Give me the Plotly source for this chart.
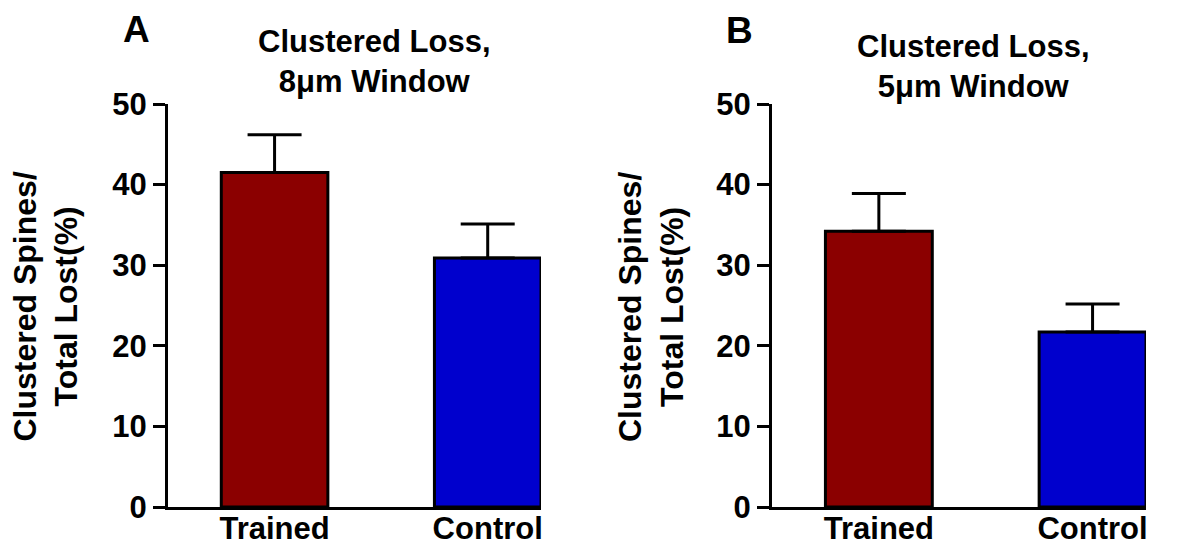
import plotly.graph_objects as go

# ---- data ----
categories = ["Trained", "Control"]
a_means = [41.5, 30.9]
a_sem = [4.7, 4.2]
b_means = [34.2, 21.7]
b_sem = [4.7, 3.5]
bar_colors = ["#8B0000", "#0000CD"]
y_ticks = [0, 10, 20, 30, 40, 50]
panel_titles = ["Clustered Loss,<br>8\u03bcm Window", "Clustered Loss,<br>5\u03bcm Window"]
panel_letters = ["A", "B"]
y_title = "Clustered Spines/<br>Total Lost(%)"

W, H = 1193, 549
FONT = "Liberation Sans, Arial, sans-serif"

def px_x(p):
    return p / W

def px_y(p):
    return 1 - p / H

fig = go.Figure()

for i, (means, sem) in enumerate([(a_means, a_sem), (b_means, b_sem)]):
    suffix = "" if i == 0 else "2"
    fig.add_trace(go.Bar(
        x=categories, y=means,
        width=0.5,
        marker=dict(color=bar_colors, line=dict(color="black", width=3)),
        error_y=dict(type="data", symmetric=False, array=sem, arrayminus=[0] * len(sem),
                     color="black", thickness=3, width=27),
        xaxis="x" + suffix, yaxis="y" + suffix,
        showlegend=False,
    ))

x_domains = [[px_x(168), px_x(541)], [px_x(772), px_x(1146)]]
y_domain = [px_y(507), px_y(104)]

common_x = dict(range=[-0.5, 1.25], showline=True, linecolor="black", linewidth=3,
                ticks="", showgrid=False, zeroline=False, automargin=False,
                ticklabelstandoff=-8,
                tickfont=dict(family=FONT, size=31, color="black", weight="bold"))
common_y = dict(range=[0, 50], tickvals=y_ticks, showline=True, linecolor="black", linewidth=3,
                ticks="outside", ticklen=12, tickwidth=3, tickcolor="black",
                showgrid=False, zeroline=False, automargin=False,
                tickfont=dict(family=FONT, size=31, color="black", weight="bold"))

fig.update_layout(
    template="none",
    width=W, height=H,
    margin=dict(l=0, r=0, t=0, b=0),
    paper_bgcolor="white", plot_bgcolor="white",
    xaxis=dict(domain=x_domains[0], anchor="y", **common_x),
    yaxis=dict(domain=y_domain, anchor="x", **common_y),
    xaxis2=dict(domain=x_domains[1], anchor="y2", **common_x),
    yaxis2=dict(domain=y_domain, anchor="x2", **common_y),
)

letter_pos = [(136, 30), (739, 31)]
title_pos = [(374, 62), (973, 66)]
ytitle_pos = [(45.5, 307), (651, 307)]

for i in range(2):
    fig.add_annotation(text=panel_letters[i], xref="paper", yref="paper",
                       x=px_x(letter_pos[i][0]), y=px_y(letter_pos[i][1]),
                       xanchor="center", yanchor="middle", showarrow=False,
                       font=dict(family=FONT, size=37, color="black", weight="bold"))
    fig.add_annotation(text=panel_titles[i], xref="paper", yref="paper",
                       x=px_x(title_pos[i][0]), y=px_y(title_pos[i][1]),
                       xanchor="center", yanchor="middle", showarrow=False,
                       font=dict(family=FONT, size=31, color="black", weight="bold"))
    fig.add_annotation(text=y_title, xref="paper", yref="paper",
                       x=px_x(ytitle_pos[i][0]), y=px_y(ytitle_pos[i][1]),
                       xanchor="center", yanchor="middle", showarrow=False, textangle=-90,
                       font=dict(family=FONT, size=32, color="black", weight="bold"))

fig.write_html("out.html")
